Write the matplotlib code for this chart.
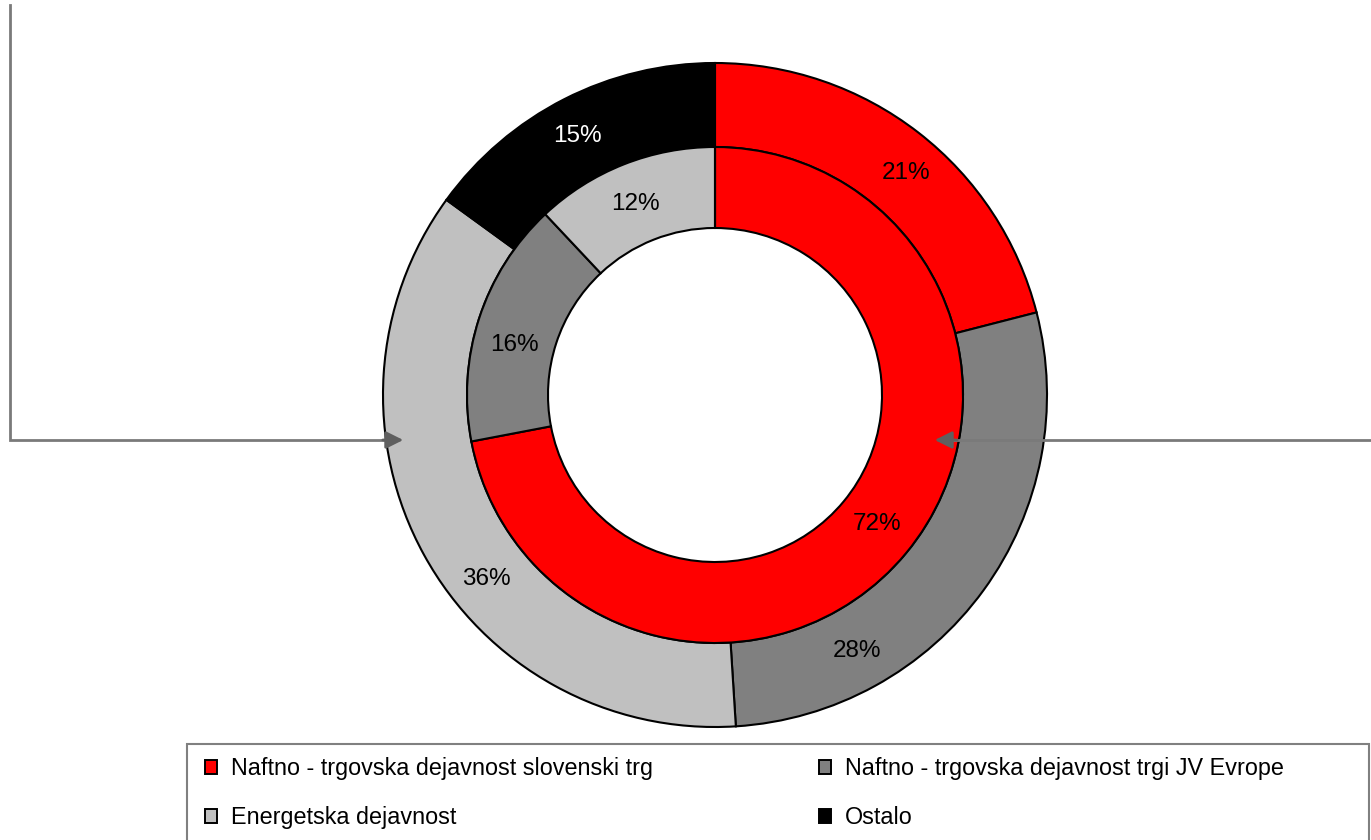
import matplotlib
matplotlib.use('Agg')
import numpy as np
import matplotlib.pyplot as plt
from matplotlib.patches import Patch, Rectangle

plt.rcParams['font.family'] = ['Liberation Sans', 'DejaVu Sans']

# podatki
categories = ['Naftno - trgovska dejavnost slovenski trg',
              'Naftno - trgovska dejavnost trgi JV Evrope',
              'Energetska dejavnost',
              'Ostalo']
outer_vals = [21, 28, 36, 15]
inner_vals = [72, 16, 12, 0]
colors = ['#FF0000', '#808080', '#C0C0C0', '#000000']
label_colors = ['black', 'black', 'black', 'white']

# zamik oznak (stopinje) - v izvirniku niso na sredini izsekov
outer_shift = [3, 25, -10, -1]
inner_shift = [-1, -4, -1, 0]

W, H = 1371, 840
fig = plt.figure(figsize=(W / 100, H / 100), dpi=100)
ax = fig.add_axes([0, 0, 1, 1])

cx, cy = 715, H - 395
wp = dict(edgecolor='black', linewidth=1.5)

ax.pie(outer_vals, radius=332, center=(cx, cy), startangle=90,
       counterclock=False, colors=colors, wedgeprops=dict(width=84, **wp))
ax.pie(inner_vals, radius=248, center=(cx, cy), startangle=90,
       counterclock=False, colors=colors, wedgeprops=dict(width=81, **wp))


def add_labels(vals, shift, r):
    cum = np.cumsum([0] + list(vals)) / sum(vals) * 360
    for i, v in enumerate(vals):
        if v <= 0:
            continue
        a = np.deg2rad((cum[i] + cum[i + 1]) / 2 + shift[i])
        ax.text(cx + r * np.sin(a), cy + r * np.cos(a), f'{v}%',
                ha='center', va='center', fontsize=17.5, color=label_colors[i])


add_labels(outer_vals, outer_shift, 293)
add_labels(inner_vals, inner_shift, 207)

# crte s puscicami
ax.plot([10, 10, 390], [H - 5, H - 440, H - 440], color='#7a7a7a', lw=2,
        solid_joinstyle='miter')
ax.annotate('', xy=(406, H - 440), xytext=(380, H - 440),
            arrowprops=dict(arrowstyle='-|>', color='#5f5f5f', lw=2,
                            mutation_scale=26))
ax.plot([W, 950], [H - 440, H - 440], color='#7a7a7a', lw=2)
ax.annotate('', xy=(932, H - 440), xytext=(960, H - 440),
            arrowprops=dict(arrowstyle='-|>', color='#5f5f5f', lw=2,
                            mutation_scale=26))

ax.set_xlim(0, W)
ax.set_ylim(0, H)
ax.set_aspect('equal')
ax.axis('off')

# legenda
order = [0, 2, 1, 3]
handles = [Patch(facecolor=colors[i], edgecolor='black', linewidth=1.4) for i in order]
labels = [categories[i] for i in order]
fig.legend(handles, labels, ncol=2, frameon=False, fontsize=16.8,
           loc='upper left', bbox_to_anchor=(205 / W, 1 - 757 / H),
           borderaxespad=0, borderpad=0, handlelength=0.52, handleheight=0.52,
           handletextpad=0.6, labelspacing=1.12, columnspacing=7.1)
fig.patches.append(Rectangle((187 / W, -0.05), (1369 - 187) / W, (840 - 744) / H + 0.05,
                             transform=fig.transFigure, fill=False,
                             edgecolor='#808080', linewidth=1.5))

fig.savefig('out.png', dpi=100, facecolor='white')
